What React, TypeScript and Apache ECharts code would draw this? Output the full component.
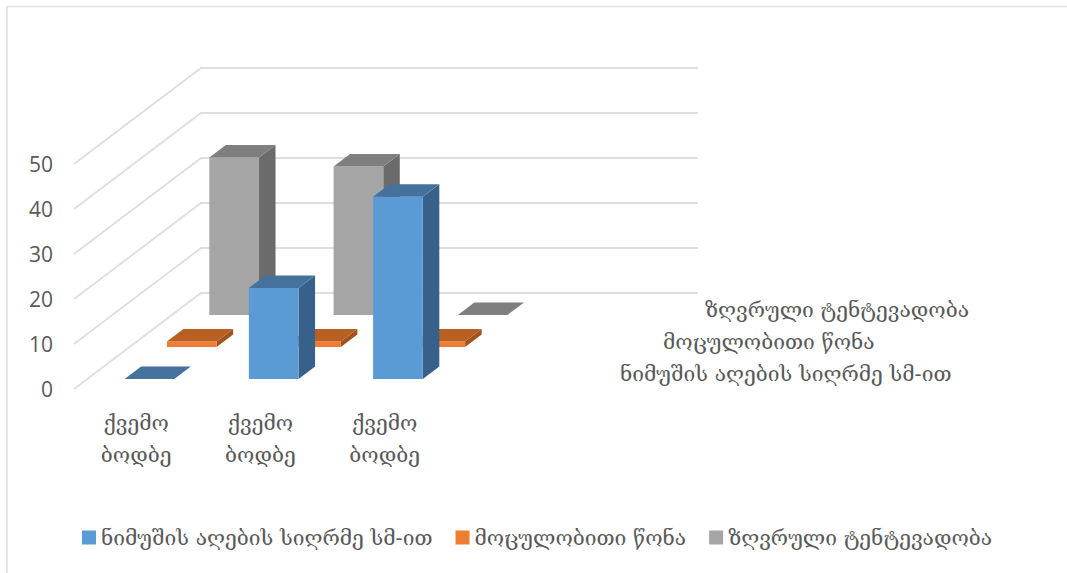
import React, { useEffect, useRef } from "react";
import * as echarts from "echarts";

const categories = ["ქვემო\nბოდბე", "ქვემო\nბოდბე", "ქვემო\nბოდბე", ""];
const seriesNames = ["ნიმუშის აღების სიღრმე სმ-ით", "მოცულობითი წონა", "ზღვრული ტენტევადობა"];
const depthValues = [0, 20.2, 40.5];
const densityValues = [1.2, 1.2, 1.2];
const limitValues = [35, 33, 0];
const yTicks = [0, 10, 20, 30, 40, 50];

const FONT = "'DejaVu Serif',serif";
const NUM_FONT = "'Open Sans',sans-serif";
const TEXT = "#595959";
const DX = 127;
const DY = 96;
const FLOOR_Z = [0.105, 0.438, 0.772];
const BAR_Z = 0.13;
const BAR_W = 0.4;

const palette = [
  { front: "#5B9BD5", top: "#44729D", side: "#37618A" },
  { front: "#ED7D31", top: "#B85F22", side: "#A0531D" },
  { front: "#A5A5A5", top: "#7F7F7F", side: "#6B6B6B" },
];

function barRender(idx: number) {
  return (_p: any, api: any) => {
    const cat = api.value(0);
    const val = api.value(1);
    const base = api.coord([cat, 0]);
    const top = api.coord([cat, val]);
    const w = api.size([1, 0])[0] * BAR_W;
    const z = FLOOR_Z[idx];
    const x0 = base[0] + z * DX - w / 2;
    const x1 = x0 + w;
    const yb = base[1] - z * DY;
    const yt = top[1] - z * DY;
    const ox = BAR_Z * DX;
    const oy = BAR_Z * DY;
    const c = palette[idx];
    const children: any[] = [];
    if (yb - yt > 0.1) {
      children.push({
        type: "polygon",
        shape: { points: [[x1, yb], [x1 + ox, yb - oy], [x1 + ox, yt - oy], [x1, yt]] },
        style: { fill: c.side },
      });
      children.push({
        type: "rect",
        shape: { x: x0, y: yt, width: w, height: yb - yt },
        style: { fill: c.front },
      });
    }
    children.push({
      type: "polygon",
      shape: { points: [[x0, yt], [x1, yt], [x1 + ox, yt - oy], [x0 + ox, yt - oy]] },
      style: { fill: c.top },
    });
    return { type: "group", children };
  };
}

function gridRender(p: any, api: any) {
  const v = api.value(0);
  const cs = p.coordSys;
  const y = api.coord([0, v])[1];
  return {
    type: "polyline",
    shape: { points: [[cs.x, y], [cs.x + DX, y - DY], [cs.x + DX + cs.width, y - DY]] },
    style: { stroke: "#DEDEDE", lineWidth: 1.8, fill: "none" },
  };
}

const barData = (vals: number[]) => vals.map((v, i) => [i, v]);

export default function App() {
  const ref = useRef<HTMLDivElement>(null);
  useEffect(() => {
    const chart = echarts.init(ref.current!, undefined, { renderer: "svg" });
    const depthLabel = (i: number, x: number, y: number) => ({
      type: "text",
      x,
      y,
      style: { text: seriesNames[i], fill: TEXT, font: `21px ${FONT}`, textAlign: "left", textVerticalAlign: "middle" },
    });
    chart.setOption({
      animation: false,
      backgroundColor: "#fff",
      grid: { left: 74, top: 164, width: 497, height: 225, containLabel: false },
      xAxis: {
        type: "category",
        data: categories,
        axisLine: { show: false },
        axisTick: { show: false },
        splitLine: { show: false },
        axisLabel: { color: TEXT, fontFamily: FONT, fontSize: 21, lineHeight: 32, margin: 18, interval: 0 },
      },
      yAxis: {
        type: "value",
        min: 0,
        max: 50,
        interval: 10,
        axisLine: { show: false },
        axisTick: { show: false },
        splitLine: { show: false },
        axisLabel: { color: TEXT, fontFamily: NUM_FONT, fontSize: 21, margin: 21 },
      },
      legend: {
        left: 77,
        top: 522,
        itemWidth: 14,
        itemHeight: 14,
        itemGap: 23,
        icon: "rect",
        data: seriesNames,
        selectedMode: false,
        textStyle: { color: TEXT, fontFamily: FONT, fontSize: 21 },
      },
      graphic: [
        { type: "polyline", silent: true, shape: { points: [[7, 573], [7, 6.5], [1067, 6.5]] }, style: { stroke: "#E0E0E0", lineWidth: 1.5, fill: "none" } },
        depthLabel(2, 705, 310),
        depthLabel(1, 663, 342),
        depthLabel(0, 620, 374),
      ],
      series: [
        { type: "custom", name: "grid", silent: true, data: yTicks.map((t) => [t]), encode: { y: 0 }, renderItem: gridRender, z: 1 },
        { type: "custom", name: seriesNames[2], data: barData(limitValues), encode: { x: 0, y: 1 }, renderItem: barRender(2), itemStyle: { color: palette[2].front }, z: 2 },
        { type: "custom", name: seriesNames[1], data: barData(densityValues), encode: { x: 0, y: 1 }, renderItem: barRender(1), itemStyle: { color: palette[1].front }, z: 3 },
        { type: "custom", name: seriesNames[0], data: barData(depthValues), encode: { x: 0, y: 1 }, renderItem: barRender(0), itemStyle: { color: palette[0].front }, z: 4 },
      ],
    });
    return () => chart.dispose();
  }, []);
  return <div ref={ref} style={{ position: "absolute", left: 0, top: 0, width: 1067, height: 573 }} />;
}
